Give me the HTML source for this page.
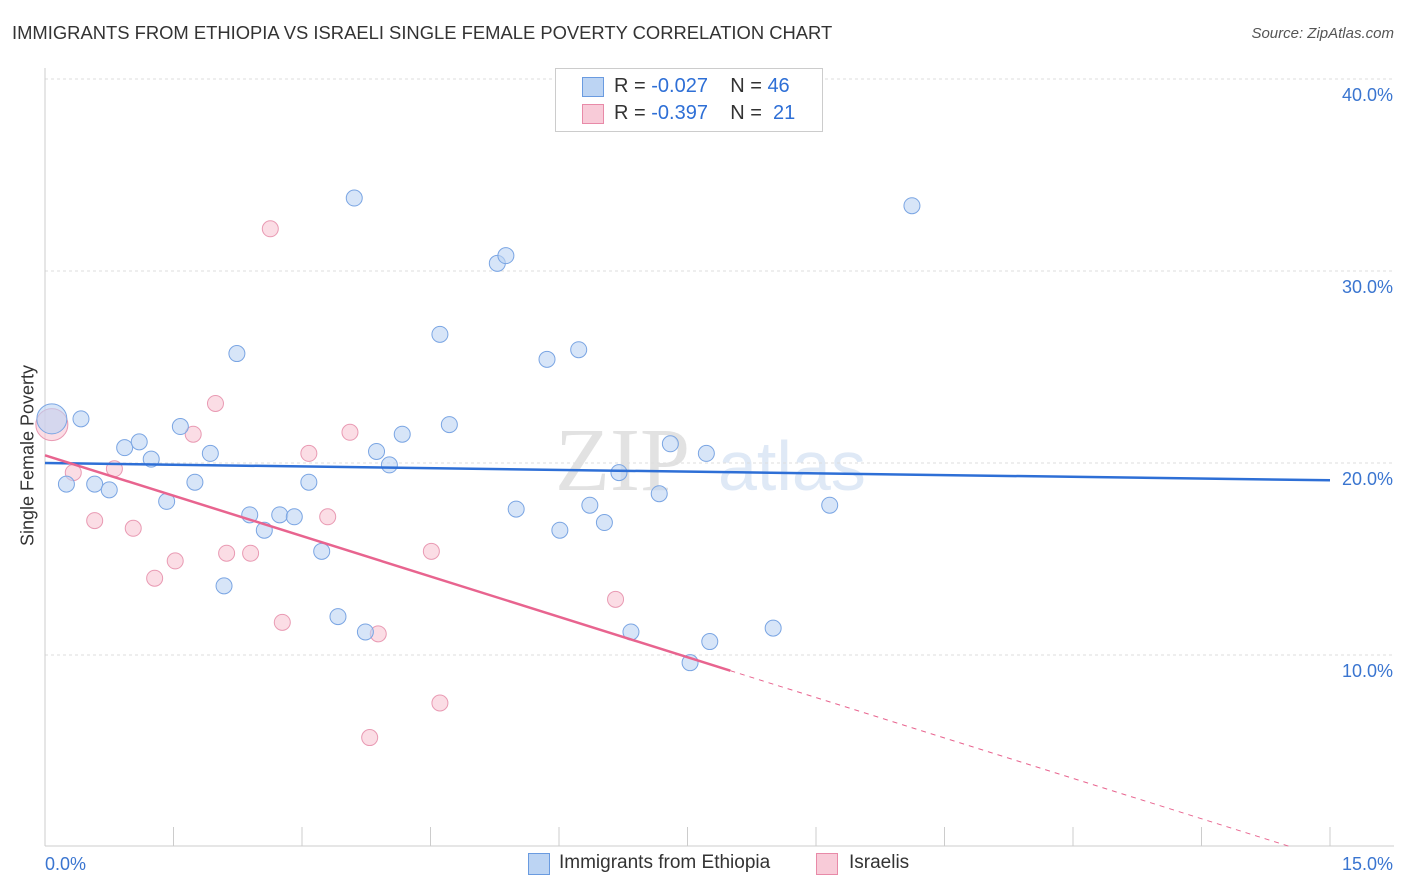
<!DOCTYPE html>
<html><head><meta charset="utf-8"><style>
body{margin:0;background:#fff;font-family:"Liberation Sans",sans-serif;}
#wrap{position:relative;width:1406px;height:892px;overflow:hidden}
.t{position:absolute;white-space:nowrap}
</style></head><body><div id="wrap">
<div class="t" style="left:12px;top:22px;font-size:18.4px;color:#333">IMMIGRANTS FROM ETHIOPIA VS ISRAELI SINGLE FEMALE POVERTY CORRELATION CHART</div>
<div class="t" style="right:12px;top:25px;font-size:15px;color:#555;font-style:italic">Source: ZipAtlas.com</div>
<div class="t" style="left:-72px;top:445px;font-size:18px;color:#333;transform:rotate(-90deg);transform-origin:center;width:200px;text-align:center">Single Female Poverty</div>
<svg id="svg" width="1406" height="892" style="position:absolute;left:0;top:0"></svg>
<div style="position:absolute;left:555px;top:68px;width:266px;height:62px;border:1px solid #ccc;background:#fff;font-size:20px;color:#333">
<div style="position:absolute;left:26px;top:8px;width:20px;height:18px;background:#bcd4f3;border:1px solid #6a9be0"></div>
<div class="t" style="left:58px;top:6px">R = <span style="color:#2e6fd6">-0.027</span>&nbsp;&nbsp;&nbsp;&nbsp;N = <span style="color:#2e6fd6">46</span></div>
<div style="position:absolute;left:26px;top:35px;width:20px;height:18px;background:#f8cbd8;border:1px solid #e88aa8"></div>
<div class="t" style="left:58px;top:33px">R = <span style="color:#2e6fd6">-0.397</span>&nbsp;&nbsp;&nbsp;&nbsp;N = &nbsp;<span style="color:#2e6fd6">21</span></div>
</div>
<div style="position:absolute;left:528px;top:853px;width:20px;height:20px;background:#bcd4f3;border:1px solid #6a9be0"></div>
<div class="t" style="left:559px;top:852px;font-size:19px;color:#333">Immigrants from Ethiopia</div>
<div style="position:absolute;left:816px;top:853px;width:20px;height:20px;background:#f8cbd8;border:1px solid #e88aa8"></div>
<div class="t" style="left:849px;top:852px;font-size:19px;color:#333">Israelis</div>
</div>
<script>
const yTicks=[10,20,30,40];
const yTickLabels=["10.0%","20.0%","30.0%","40.0%"];
const blueX=[0.08,0.42,0.25,0.58,0.75,0.93,1.10,1.24,1.42,1.58,1.75,1.93,2.24,2.39,2.56,2.74,2.91,2.09,3.08,3.23,3.42,3.61,3.74,3.87,4.02,4.17,4.61,4.72,5.28,5.38,5.50,5.86,6.01,6.23,6.36,6.53,6.70,6.84,7.17,7.30,7.53,7.72,7.76,8.50,9.16,10.12];
const blueY=[22.3,22.3,18.9,18.9,18.6,20.8,21.1,20.2,18.0,21.9,19.0,20.5,25.7,17.3,16.5,17.3,17.2,13.6,19.0,15.4,12.0,33.8,11.2,20.6,19.9,21.5,26.7,22.0,30.4,30.8,17.6,25.4,16.5,25.9,17.8,16.9,19.5,11.2,18.4,21.0,9.6,20.5,10.7,11.4,17.8,33.4];
const pinkX=[0.08,0.33,0.58,0.81,1.03,1.28,1.52,1.73,1.99,2.12,2.40,2.63,2.77,3.08,3.30,3.56,3.79,3.89,4.51,4.61,6.66];
const pinkY=[22.0,19.5,17.0,19.7,16.6,14.0,14.9,21.5,23.1,15.3,15.3,32.2,11.7,20.5,17.2,21.6,5.7,11.1,15.4,7.5,12.9];
const blueTrend=[20.0,19.1];
const pinkTrend=[20.4,0.0];
const X0=45,X1=1330,Y0=847,PY=19.2;
const xs=v=>X0+(X1-X0)*v/15, ys=v=>Y0-v*PY;
const svg=document.getElementById('svg');const NS='http://www.w3.org/2000/svg';
function mk(t,a){const e=document.createElementNS(NS,t);for(const k in a)e.setAttribute(k,a[k]);svg.appendChild(e);return e;}
let wm=mk('text',{x:555,y:490,'font-size':90,'font-family':'Liberation Serif',fill:'#e2e2e2'});wm.textContent='ZIP';


let wm2=mk('text',{x:718,y:490,'font-size':70,'font-family':'Liberation Sans',fill:'#dfe9f6'});wm2.textContent='atlas';
let tg=mk('line',{x1:45,y1:79,x2:1394,y2:79,stroke:'#ddd','stroke-dasharray':'3,3'});
yTicks.forEach((v,i)=>{
 let l=mk('line',{x1:45,y1:ys(v),x2:1394,y2:ys(v),stroke:'#ddd','stroke-dasharray':'3,3'});
 
 
 let t=mk('text',{x:1393,y:ys(v)+22,'text-anchor':'end','font-size':18,fill:'#3a75d0'});t.textContent=yTickLabels[i];
 
 
});
mk('line',{x1:45,y1:68,x2:45,y2:846,stroke:'#ccc'});
mk('line',{x1:45,y1:846,x2:1394,y2:846,stroke:'#ccc'});
for(let i=1;i<=10;i++){const x=xs(i*1.5);mk('line',{x1:x,y1:827,x2:x,y2:846,stroke:'#ccc'});}
let xl=mk('text',{x:45,y:870,'font-size':18,fill:'#3a75d0'});xl.textContent='0.0%';
let xr=mk('text',{x:1393,y:870,'text-anchor':'end','font-size':18,fill:'#3a75d0'});xr.textContent='15.0%';
function pt(x,y,r,f,s,n){const c=mk('circle',{cx:xs(x),cy:ys(y),r:r,fill:f,stroke:s,'stroke-width':1,'fill-opacity':0.6});
 
 }
pinkX.forEach((x,i)=>pt(x,pinkY[i],i==0?16:8,'#f8c6d4','#e99ab3','israeli-point'));
blueX.forEach((x,i)=>pt(x,blueY[i],i==0?15:8,'#bcd4f3','#7aa5e3','ethiopia-point'));
let bl=mk('line',{x1:xs(0),y1:ys(blueTrend[0]),x2:xs(15),y2:ys(blueTrend[1]),stroke:'#2e6fd6','stroke-width':2.5});


const px=v=>pinkTrend[0]+(pinkTrend[1]-pinkTrend[0])*v/14.55;
let pl=mk('line',{x1:xs(0),y1:ys(px(0)),x2:xs(8),y2:ys(px(8)),stroke:'#e8648f','stroke-width':2.5});


mk('line',{x1:xs(8),y1:ys(px(8)),x2:xs(14.55),y2:ys(0),stroke:'#e8648f','stroke-width':1,'stroke-dasharray':'5,5'});
</script></body></html>
